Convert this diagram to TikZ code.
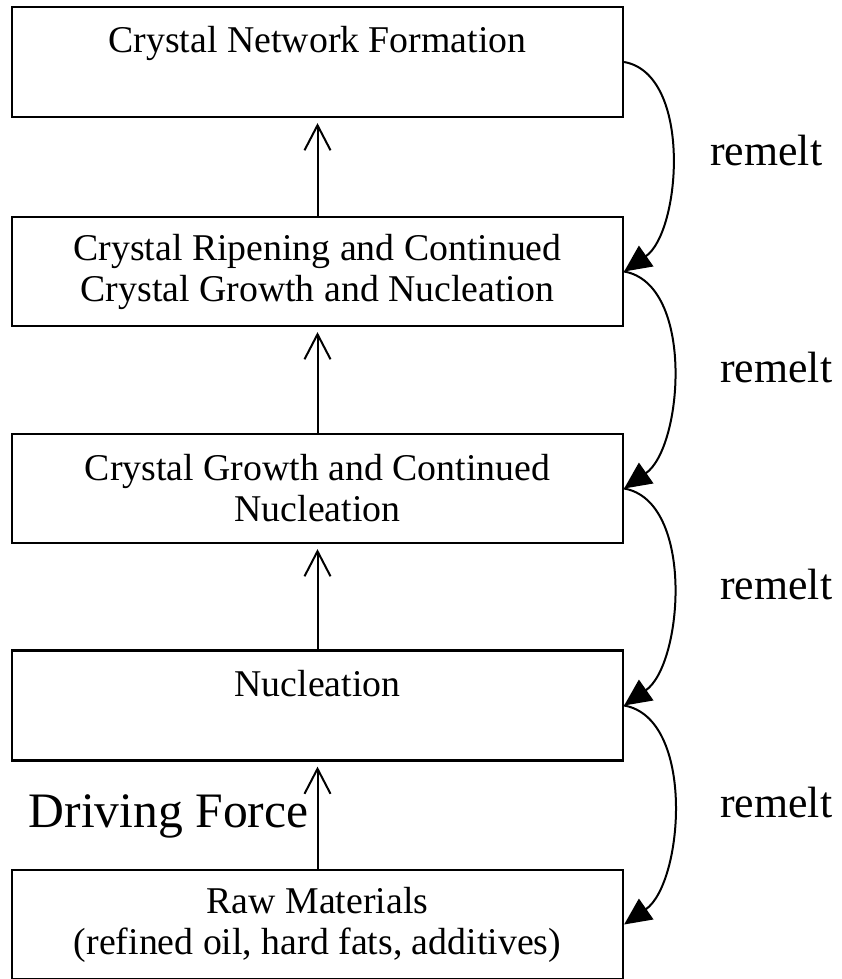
\documentclass[tikz,border=0pt]{standalone}
\usepackage{fontspec}
\setmainfont{Liberation Serif}
\usetikzlibrary{arrows.meta,calc}

\begin{document}
\begin{tikzpicture}[x=0.5pt,y=-0.5pt,
    stage/.style={draw, line width=1.1pt, minimum width=305.5pt, inner sep=0pt,
      font=\fontsize{18.9pt}{20.5pt}\selectfont},
    oneline/.style={stage, text height=23pt, text depth=32pt},
    twoline/.style={stage, minimum height=54.5pt, align=center},
    uparrow/.style={line width=1pt,
      -{Straight Barb[length=12.5pt,width=13pt]}, shorten >=2.5pt},
    loopback/.style={line width=1pt, -{Triangle[length=13.5pt,width=12.5pt]},
      looseness=0.85},
    remeltlbl/.style={anchor=base west, inner sep=0pt,
      font=\fontsize{21.9pt}{24pt}\selectfont}]

    % Frame
    \useasboundingbox (0,0) rectangle (841,979);

    % Stages
    \node[oneline] (net) at (317.5,62) {Crystal Network Formation};
    \node[twoline] (ripen) at (317.5,271.5)
      {Crystal Ripening and Continued\\Crystal Growth and Nucleation};
    \node[twoline] (grow) at (317.5,488.5)
      {Crystal Growth and Continued\\Nucleation};
    \node[oneline] (nuc) at (317.5,705.5) {Nucleation};
    \node[twoline] (raw) at (317.5,924.5)
      {Raw Materials\\(refined oil, hard fats, additives)};

    % Upward steps
    \draw[uparrow] (raw) -- (nuc)
      node[pos=0.39, anchor=base east, inner sep=0pt, xshift=-4pt,
        font=\fontsize{24.8pt}{27pt}\selectfont] {Driving Force};
    \draw[uparrow] (nuc) -- (grow);
    \draw[uparrow] (grow) -- (ripen);
    \draw[uparrow] (ripen) -- (net);

    % Remelt loops
    \draw[loopback] (net.east) to[out=-10, in=35] (ripen.east);
    \draw[loopback] (ripen.east) to[out=-10, in=35] (grow.east);
    \draw[loopback] (grow.east) to[out=-10, in=35] (nuc.east);
    \draw[loopback] (nuc.east) to[out=-10, in=35] (raw.east);

    % Labels
    \node[remeltlbl] (r1) at (710,165) {remelt};
    \node[remeltlbl] (r2) at (720,382) {remelt};
    \node[remeltlbl] (r3) at (720,599) {remelt};
    \node[remeltlbl] (r4) at (720,817) {remelt};
  \end{tikzpicture}
\end{document}
